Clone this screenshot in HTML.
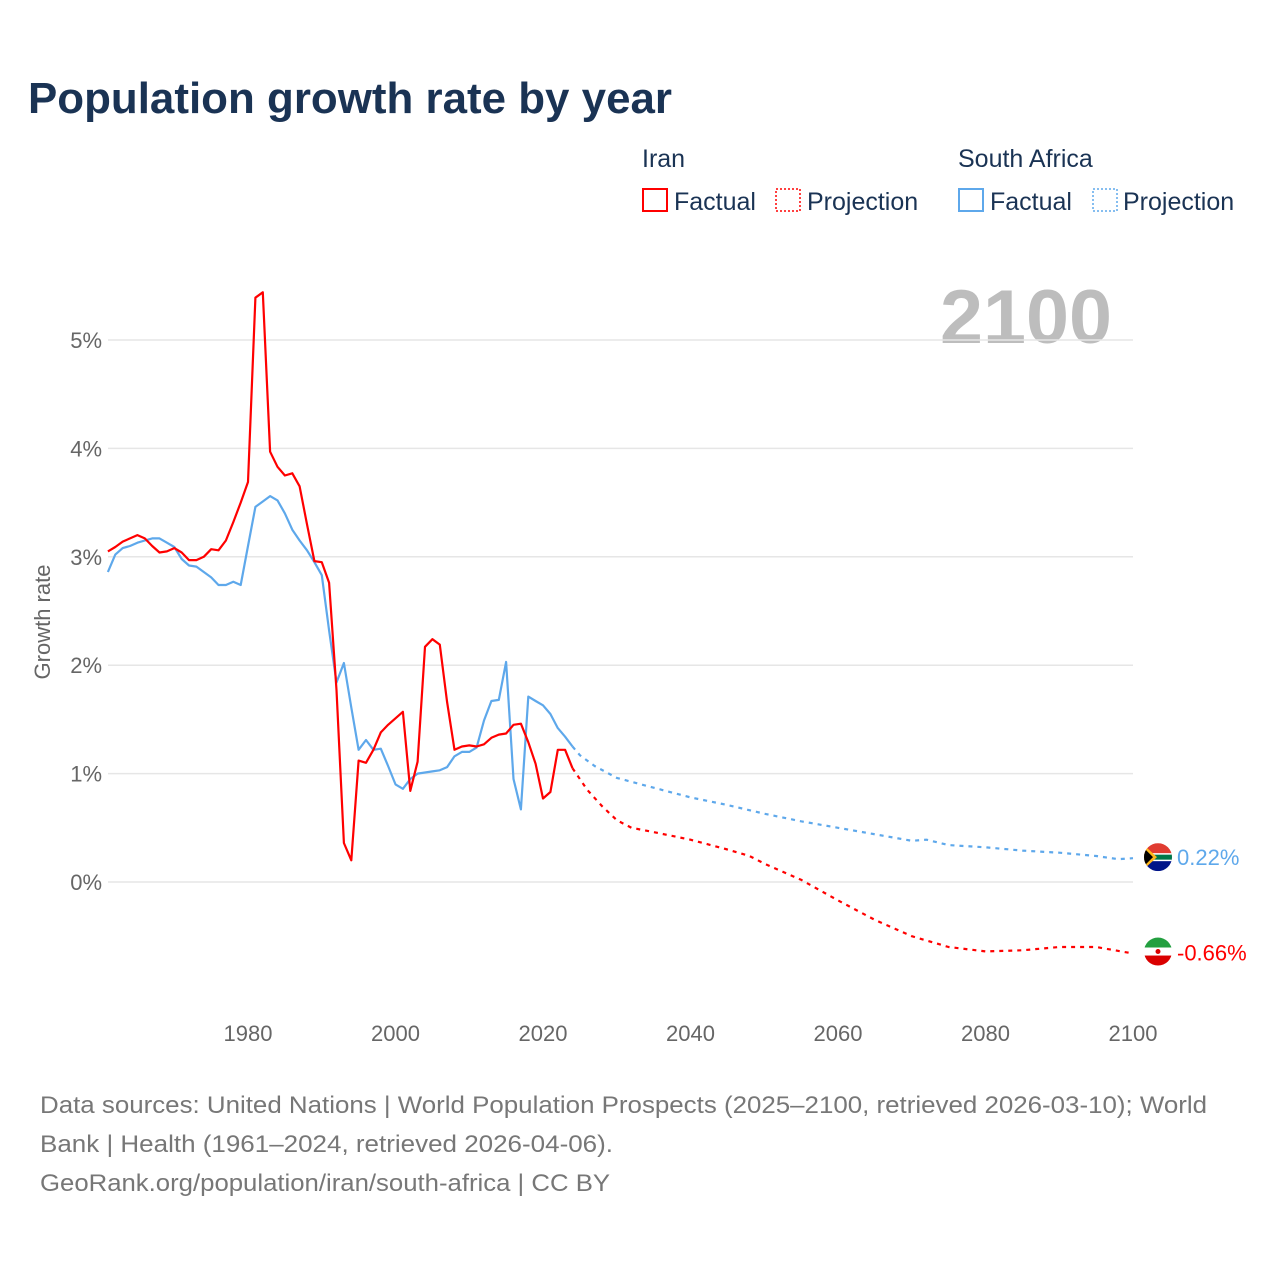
<!DOCTYPE html>
<html><head><meta charset="utf-8"><style>
html,body{margin:0;padding:0;background:#fff;}
svg{display:block;font-family:"Liberation Sans",sans-serif;}
</style></head><body>
<svg id="chart" width="1280" height="1280" viewBox="0 0 1280 1280">
<text x="28" y="113" font-size="44" font-weight="bold" fill="#1a3354" textLength="644" lengthAdjust="spacingAndGlyphs">Population growth rate by year</text>
<g font-size="25" fill="#1a3354">
<text x="642" y="167">Iran</text>
<text x="958" y="167">South Africa</text>
<g><rect x="643" y="189" width="24" height="22" fill="none" stroke="#f00" stroke-width="2"/><text x="674" y="210">Factual</text></g>
<g><rect x="776" y="189" width="24" height="22" fill="none" stroke="#f00" stroke-width="1.5" stroke-dasharray="2,2"/><text x="807" y="210">Projection</text></g>
<g><rect x="959" y="189" width="24" height="22" fill="none" stroke="#5ea8eb" stroke-width="2"/><text x="990" y="210">Factual</text></g>
<g><rect x="1093" y="189" width="24" height="22" fill="none" stroke="#5ea8eb" stroke-width="1.5" stroke-dasharray="2,2"/><text x="1123" y="210">Projection</text></g>
</g>
<text x="1112" y="343" text-anchor="end" font-size="76" font-weight="bold" fill="#bdbdbd" textLength="172" lengthAdjust="spacingAndGlyphs">2100</text>
<g id="grid"></g>
<g id="yticks" font-size="22" fill="#666"></g>
<g id="xticks" font-size="22" fill="#666"></g>
<text transform="translate(50,622) rotate(-90)" text-anchor="middle" font-size="22" fill="#666">Growth rate</text>
<g id="series"></g>
<g font-size="24" fill="#777">
<text x="40" y="1113" textLength="1167" lengthAdjust="spacingAndGlyphs">Data sources: United Nations | World Population Prospects (2025–2100, retrieved 2026-03-10); World</text>
<text x="40" y="1152" textLength="573" lengthAdjust="spacingAndGlyphs">Bank | Health (1961–2024, retrieved 2026-04-06).</text>
<text x="40" y="1191" textLength="570" lengthAdjust="spacingAndGlyphs">GeoRank.org/population/iran/south-africa | CC BY</text>
</g>
</svg>
<script>
const iranFactYears=[];for(let y=1961;y<=2024;y++)iranFactYears.push(y);
const iranFact=[3.05,3.09,3.14,3.17,3.20,3.17,3.10,3.04,3.05,3.08,3.04,2.97,2.97,3.00,3.07,3.06,3.15,3.32,3.50,3.69,5.39,5.44,3.97,3.83,3.75,3.77,3.65,3.30,2.96,2.95,2.76,1.77,0.36,0.20,1.12,1.10,1.22,1.38,1.45,1.51,1.57,0.84,1.11,2.17,2.24,2.19,1.66,1.22,1.25,1.26,1.25,1.27,1.33,1.36,1.37,1.45,1.46,1.29,1.09,0.77,0.83,1.22,1.22,1.05];
const saFact=[2.86,3.02,3.08,3.10,3.13,3.15,3.17,3.17,3.13,3.09,2.98,2.92,2.91,2.86,2.81,2.74,2.74,2.77,2.74,3.10,3.46,3.51,3.56,3.52,3.40,3.25,3.15,3.06,2.95,2.83,2.32,1.84,2.02,1.61,1.22,1.31,1.22,1.23,1.07,0.90,0.86,0.95,1.00,1.01,1.02,1.03,1.06,1.16,1.20,1.20,1.24,1.49,1.67,1.68,2.03,0.95,0.67,1.71,1.67,1.63,1.55,1.42,1.34,1.25];
const projYears=[2024,2026,2028,2030,2032,2035,2040,2045,2048,2050,2055,2060,2065,2070,2075,2080,2085,2090,2095,2100];
const iranProj=[1.05,0.85,0.70,0.57,0.50,0.46,0.39,0.30,0.24,0.17,0.02,-0.17,-0.35,-0.50,-0.60,-0.64,-0.63,-0.60,-0.60,-0.66];
const saProjYears=[2024,2025,2027,2030,2035,2040,2045,2050,2055,2060,2065,2070,2072,2075,2080,2085,2090,2095,2098,2100];
const saProj=[1.25,1.17,1.07,0.96,0.87,0.78,0.71,0.63,0.56,0.50,0.44,0.38,0.39,0.34,0.32,0.29,0.27,0.24,0.21,0.22];
const yTicks=[0,1,2,3,4,5];
const yTickLabels=["0%","1%","2%","3%","4%","5%"];
const xTicks=[1980,2000,2020,2040,2060,2080,2100];

const NS="http://www.w3.org/2000/svg";
const X=y=>107.9+(y-1961)*7.375;
const Y=v=>882-108.4*v;
function mk(t,a,p){const e=document.createElementNS(NS,t);for(const k in a)e.setAttribute(k,a[k]);p.appendChild(e);return e;}
const grid=document.getElementById('grid'),yt=document.getElementById('yticks'),xt=document.getElementById('xticks'),se=document.getElementById('series');
yTicks.forEach((v,i)=>{
  const l=mk('line',{x1:108,x2:1133,y1:Y(v),y2:Y(v),stroke:'#e6e6e6','stroke-width':1.5},grid);
  
  
  const t=mk('text',{x:102,y:Y(v)+8,'text-anchor':'end'},yt);t.textContent=yTickLabels[i];
  
  
});
xTicks.forEach(v=>{
  const t=mk('text',{x:X(v),y:1041,'text-anchor':'middle'},xt);t.textContent=v;
  
  
});
function line(xs,vs,color,dash,name){
  const d=xs.map((x,i)=>(i?'L':'M')+X(x).toFixed(1)+','+Y(vs[i]).toFixed(1)).join('');
  const a={d:d,fill:'none',stroke:color,'stroke-width':2.2,'stroke-linejoin':'round'};
  if(dash)a['stroke-dasharray']=dash;
  const p=mk('path',a,se);
  
  
}
line(iranFactYears,saFact,'#5ea8eb',null,'sa-factual-line');
line(iranFactYears,iranFact,'#ff0000',null,'iran-factual-line');
line(saProjYears,saProj,'#5ea8eb','4,5','sa-projection-line');
line(projYears,iranProj,'#ff0000','4,5','iran-projection-line');
const saEnd=saProj[saProj.length-1],irEnd=iranProj[iranProj.length-1];
const fs=mk('g',{},se);


const cy1=Y(saEnd)-1;
const cp1=mk('clipPath',{id:'c1'},fs);mk('circle',{cx:1158,cy:cy1,r:14},cp1);
const g1=mk('g',{'clip-path':'url(#c1)'},fs);
mk('rect',{x:1144,y:cy1-14,width:28,height:14,fill:'#e03c31'},g1);
mk('rect',{x:1144,y:cy1,width:28,height:14,fill:'#001489'},g1);
mk('rect',{x:1144,y:cy1-4,width:28,height:8,fill:'#fff'},g1);
mk('rect',{x:1144,y:cy1-2.5,width:28,height:5,fill:'#007749'},g1);
mk('polygon',{points:`1144,${cy1-12} 1157,${cy1} 1144,${cy1+12}`,fill:'#ffb81c'},g1);
mk('polygon',{points:`1144,${cy1-9} 1153,${cy1} 1144,${cy1+9}`,fill:'#000'},g1);
const t1=mk('text',{x:1177,y:Y(saEnd)+7,'font-size':22,fill:'#5ea8eb'},se);t1.textContent=saEnd.toFixed(2)+'%';


const fi=mk('g',{},se);


const cy2=Y(irEnd)-2;
const cp2=mk('clipPath',{id:'c2'},fi);mk('circle',{cx:1158,cy:cy2,r:14},cp2);
const g2=mk('g',{'clip-path':'url(#c2)'},fi);
mk('rect',{x:1144,y:cy2-14,width:28,height:10,fill:'#239f40'},g2);
mk('rect',{x:1144,y:cy2-4,width:28,height:8,fill:'#fff'},g2);
mk('rect',{x:1144,y:cy2+4,width:28,height:10,fill:'#da0000'},g2);
mk('circle',{cx:1158,cy:cy2,r:2.5,fill:'#da0000'},g2);
const t2=mk('text',{x:1177,y:Y(irEnd)+7,'font-size':22,fill:'#ff0000'},se);t2.textContent=irEnd.toFixed(2)+'%';


</script>
</body></html>
